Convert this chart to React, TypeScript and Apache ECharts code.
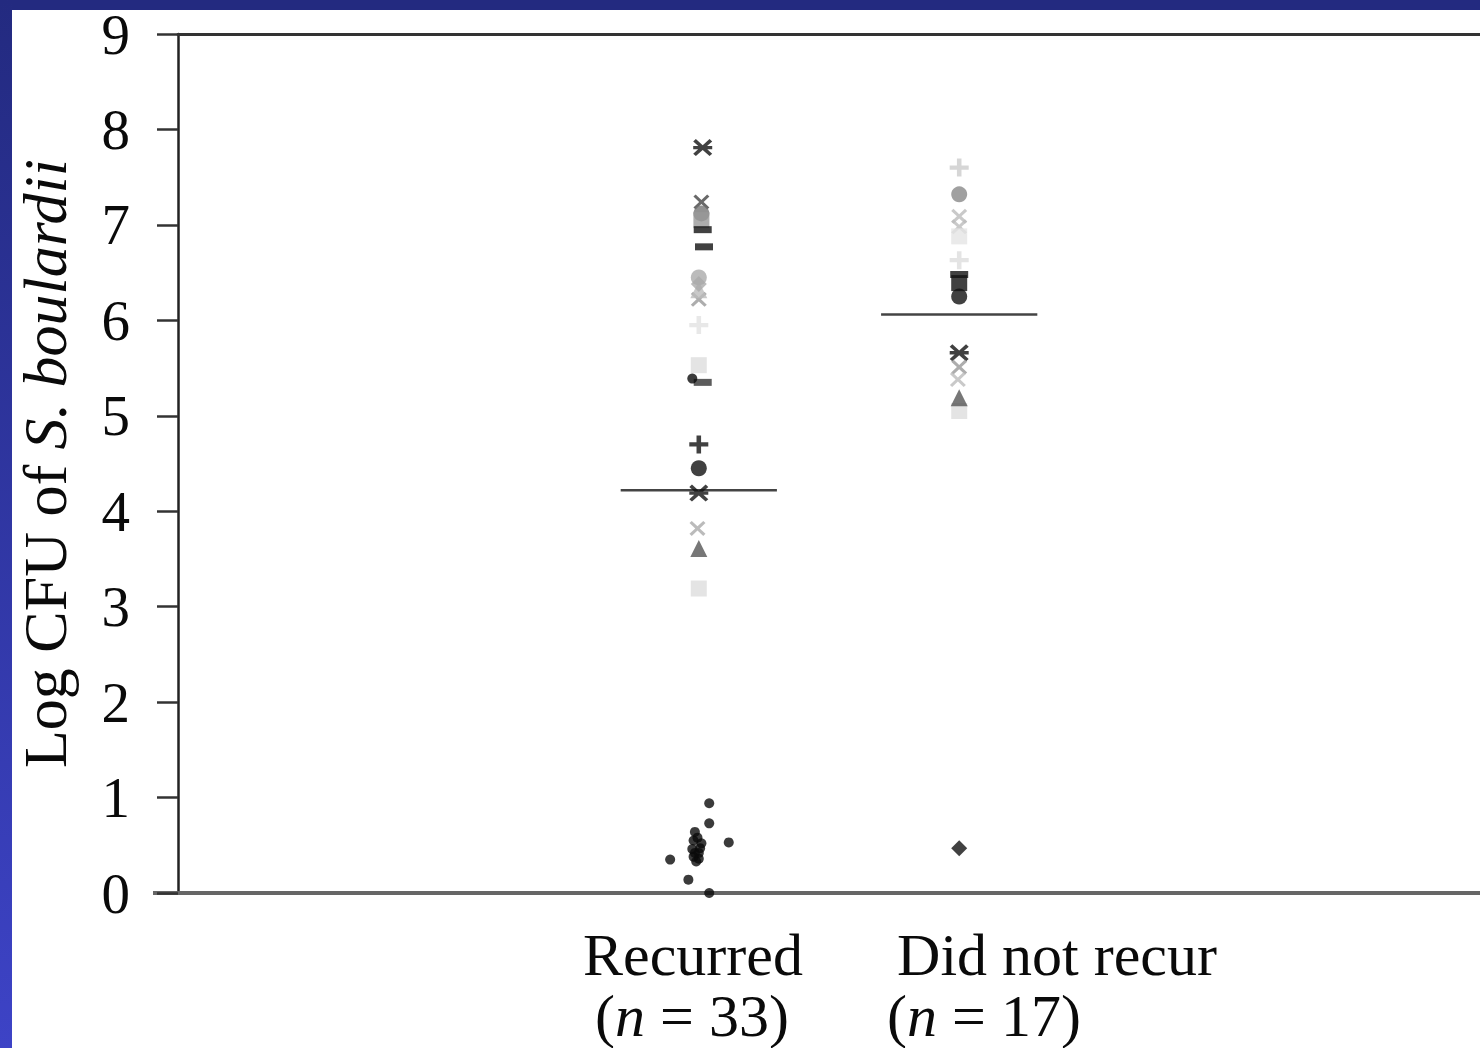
import React, { useEffect, useRef } from "react";
import * as echarts from "echarts";

// Axis ranges and ticks
const yMin = 0;
const yMax = 9;
const yStep = 1;
const xMin = 0;
const xMax = 10;

// Group centres on the horizontal scale
const groupRecurred = 4;
const groupNoRecur = 6;

// Group labels
const groupLabels = ["Recurred", "Did not recur"];
const groupCounts = [33, 17];

// Medians (log CFU)
const medianRecurred = 4.22;
const medianNoRecur = 6.06;
const medianHalfWidth = 0.6;

// Individual patients: [x, log CFU, shade]
type Pt = [number, number, string];

const asteriskPts: Pt[] = [
  [4.03, 7.81, "#111"],
  [4.0, 4.19, "#111"],
  [6.0, 5.66, "#111"],
];
const crossPts: Pt[] = [
  [4.02, 7.24, "#444"],
  [4.0, 6.22, "#999"],
  [3.99, 3.82, "#aaa"],
  [6.0, 7.09, "#bbb"],
  [6.0, 6.98, "#bbb"],
  [6.0, 5.51, "#999"],
  [5.99, 5.38, "#bbb"],
];
const plusPts: Pt[] = [
  [4.0, 4.7, "#111"],
  [4.0, 5.95, "#e2e2e2"],
  [6.0, 7.6, "#ccc"],
  [6.0, 6.63, "#ddd"],
];
const circlePts: Pt[] = [
  [4.02, 7.12, "#777"],
  [4.0, 6.45, "#aaa"],
  [4.0, 4.45, "#111"],
  [6.0, 7.32, "#888"],
  [6.0, 6.25, "#111"],
];
const squarePts: Pt[] = [
  [4.02, 7.05, "#999"],
  [4.0, 5.53, "#ddd"],
  [4.0, 3.19, "#ddd"],
  [6.0, 6.39, "#111"],
  [6.0, 5.05, "#ddd"],
  [6.0, 6.88, "#e5e5e5"],
];
const trianglePts: Pt[] = [
  [4.0, 3.61, "#555"],
  [4.0, 6.32, "#bbb"],
  [6.0, 5.19, "#555"],
];
const dashPts: Pt[] = [
  [4.03, 6.95, "#111"],
  [4.04, 6.77, "#111"],
  [4.03, 5.35, "#333"],
  [6.0, 6.48, "#111"],
];
const diamondPts: Pt[] = [
  [4.0, 6.38, "#aaa"],
  [6.0, 0.47, "#111"],
];
// Counts below detection, plotted as small dots
const dotPts: [number, number][] = [
  [4.08, 0.94],
  [4.08, 0.73],
  [3.97, 0.64],
  [3.96, 0.55],
  [3.99, 0.58],
  [4.01, 0.47],
  [3.97, 0.42],
  [4.0, 0.36],
  [3.95, 0.46],
  [4.02, 0.52],
  [3.98, 0.33],
  [3.96, 0.38],
  [4.0, 0.42],
  [4.23, 0.53],
  [3.78, 0.35],
  [3.92, 0.14],
  [4.08, 0.0],
  [3.95, 5.39],
];

const SYM_PLUS = "path://M3.8,0H6.2V3.8H10V6.2H6.2V10H3.8V6.2H0V3.8H3.8Z";
const SYM_CROSS =
  "path://M1.4,0L5,3.6L8.6,0L10,1.4L6.4,5L10,8.6L8.6,10L5,6.4L1.4,10L0,8.6L3.6,5L0,1.4Z";
const SYM_ASTERISK =
  "path://M1.4,0L5,3.6L8.6,0L10,1.4L6.4,5L10,8.6L8.6,10L5,6.4L1.4,10L0,8.6L3.6,5L0,1.4ZM0,4H10V6H0Z";

const FONT = "'Liberation Serif', 'Times New Roman', serif";

function markerSeries(pts: Pt[], symbol: string, size: number | number[]) {
  return {
    type: "scatter",
    symbol,
    symbolSize: size,
    clip: false,
    z: 5,
    data: pts.map(([x, v, c]) => ({ value: [x, v], itemStyle: { color: c } })),
  };
}

function medianSeries(center: number, value: number) {
  return {
    type: "line",
    symbol: "none",
    z: 3,
    lineStyle: { color: "#444", width: 2.5 },
    data: [
      [center - medianHalfWidth, value],
      [center + medianHalfWidth, value],
    ],
  };
}

function labelText(x: number, y: number, text: string) {
  return {
    type: "text",
    x,
    y,
    style: {
      text,
      font: `60px ${FONT}`,
      fill: "#0a0a0a",
      align: "center",
      verticalAlign: "middle",
      rich: {
        i: { fontStyle: "italic", fontSize: 60, fontFamily: FONT, fill: "#0a0a0a" },
      },
    },
  };
}

export default function App() {
  const ref = useRef<HTMLDivElement>(null);

  useEffect(() => {
    if (!ref.current) return;
    const chart = echarts.init(ref.current, undefined, { renderer: "svg" });

    const option: any = {
      animation: false,
      backgroundColor: "#ffffff",
      textStyle: { fontFamily: FONT },
      grid: { left: 178, top: 34, width: 1305, height: 859 },
      xAxis: [
        {
          type: "value",
          min: xMin,
          max: xMax,
          position: "bottom",
          splitLine: { show: false },
          axisTick: { show: false },
          axisLabel: { show: false },
          axisLine: { show: true, lineStyle: { color: "#666", width: 4 } },
        },
        {
          type: "value",
          min: xMin,
          max: xMax,
          position: "top",
          splitLine: { show: false },
          axisTick: { show: false },
          axisLabel: { show: false },
          axisLine: { show: true, lineStyle: { color: "#333", width: 3 } },
        },
      ],
      yAxis: {
        type: "value",
        min: yMin,
        max: yMax,
        interval: yStep,
        splitLine: { show: false },
        axisLine: { show: true, lineStyle: { color: "#222", width: 2.5 } },
        axisTick: {
          show: true,
          inside: false,
          length: 21,
          lineStyle: { color: "#333", width: 2.5 },
        },
        axisLabel: {
          margin: 48,
          fontSize: 57,
          color: "#0a0a0a",
          fontFamily: FONT,
        },
        name: "Log CFU of {i|S. boulardii}",
        nameLocation: "middle",
        nameGap: 102,
        nameTextStyle: {
          fontSize: 62,
          color: "#0a0a0a",
          fontFamily: FONT,
          rich: {
            i: { fontSize: 62, fontStyle: "italic", color: "#0a0a0a", fontFamily: FONT },
          },
        },
      },
      series: [
        medianSeries(groupRecurred, medianRecurred),
        medianSeries(groupNoRecur, medianNoRecur),
        markerSeries(asteriskPts, SYM_ASTERISK, [19, 17]),
        markerSeries(crossPts, SYM_CROSS, [16, 15]),
        markerSeries(plusPts, SYM_PLUS, [19, 18]),
        markerSeries(circlePts, "circle", 16),
        markerSeries(squarePts, "rect", 16),
        markerSeries(trianglePts, "triangle", 17),
        markerSeries(dashPts, "rect", [18, 7]),
        markerSeries(diamondPts, "diamond", 16),
        {
          type: "scatter",
          symbol: "circle",
          symbolSize: 10,
          clip: false,
          z: 5,
          itemStyle: { color: "#0a0a0a" },
          data: dotPts,
        },
      ],
      graphic: [
        // dark frame on the top and left edges
        {
          type: "rect",
          shape: { x: 0, y: 0, width: 1480, height: 10 },
          style: { fill: "#232a80" },
          z: 100,
        },
        {
          type: "rect",
          shape: { x: 0, y: 0, width: 12, height: 1048 },
          style: {
            fill: new echarts.graphic.LinearGradient(0, 0, 0, 1, [
              { offset: 0, color: "#232a80" },
              { offset: 1, color: "#3d43c6" },
            ]),
          },
          z: 100,
        },
        // baseline stub left of the value axis
        {
          type: "line",
          shape: { x1: 153, y1: 893, x2: 180, y2: 893 },
          style: { stroke: "#666", lineWidth: 4 },
        },
        // group labels under the axis
        labelText(693, 955, groupLabels[0]),
        labelText(692, 1016, `({i|n} = ${groupCounts[0]})`),
        labelText(1057, 955, groupLabels[1]),
        labelText(984, 1016, `({i|n} = ${groupCounts[1]})`),
      ],
    };

    chart.setOption(option);
    return () => chart.dispose();
  }, []);

  return (
    <div
      ref={ref}
      style={{ position: "absolute", left: 0, top: 0, width: 1480, height: 1048 }}
    />
  );
}
